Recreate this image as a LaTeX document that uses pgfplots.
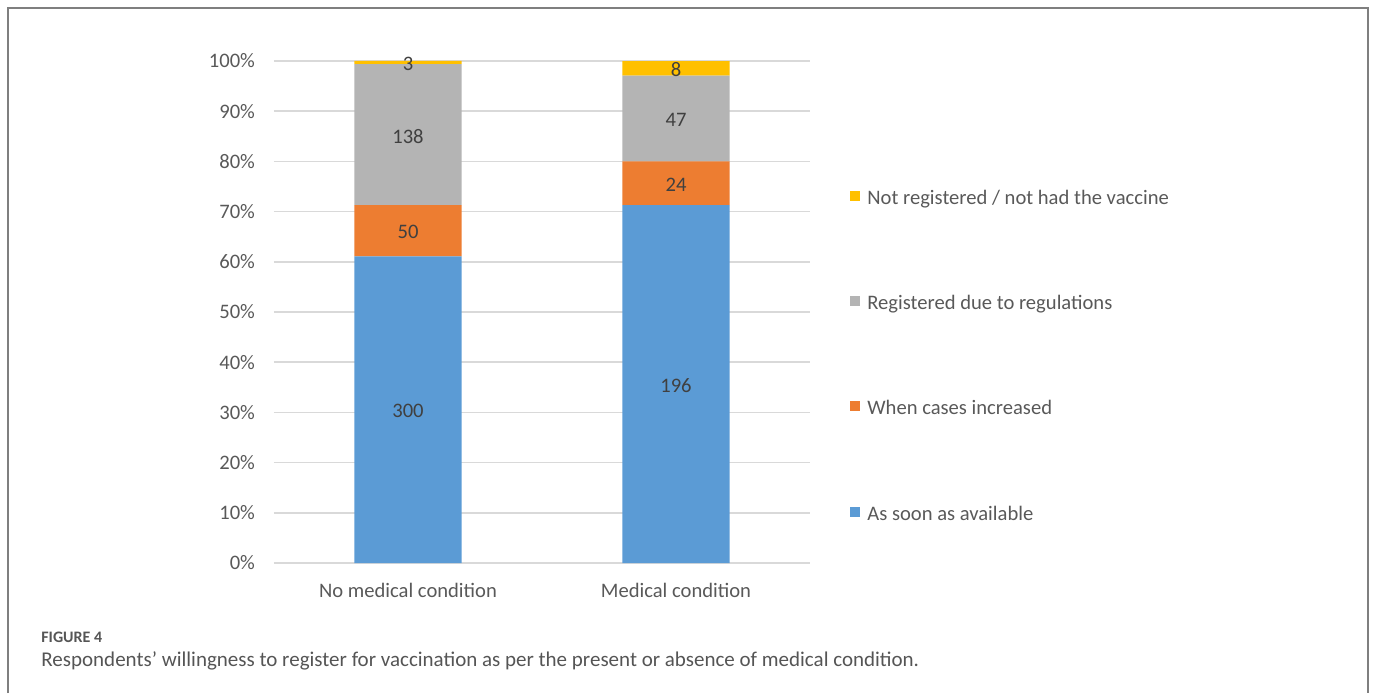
\documentclass[border=0pt]{standalone}
\usepackage{fontspec}
\setmainfont{Carlito}
\usepackage{pgfplots}
\usepackage{pgfplotstable}
\pgfplotsset{compat=1.18}
\definecolor{cBlue}{HTML}{5B9BD5}
\definecolor{cOrange}{HTML}{ED7D31}
\definecolor{cGray}{HTML}{B4B4B4}
\definecolor{cYellow}{HTML}{FFC000}
\definecolor{txt}{HTML}{595959}
\definecolor{lbl}{HTML}{404040}
\definecolor{gridc}{HTML}{D9D9D9}
\definecolor{framec}{HTML}{7F7F7F}
\definecolor{capc}{HTML}{555555}

% respondents per answer, and group totals
\pgfplotstableread{
x soon cases regs none tot
0 300 50 138 3 491
1 196 24 47 8 275
}\vaccine

\begin{document}
\begin{tikzpicture}
\useasboundingbox (0pt,0pt) rectangle (686.5pt,346.5pt);
\draw[framec, line width=1pt] (4pt,0pt) -- (4pt,342.5pt) -- (684pt,342.5pt) -- (684pt,0pt);
\begin{axis}[
  at={(137pt,65pt)}, anchor=south west,
  scale only axis, width=268pt, height=251pt,
  clip=false,
  ybar stacked, bar width=0.4,
  xmin=-0.5, xmax=1.5, ymin=0, ymax=100,
  xtick={0,1}, xticklabels={No medical condition, Medical condition},
  ytick={0,10,...,100},
  yticklabel={\pgfmathprintnumber{\tick}\%},
  ymajorgrids, grid style={gridc, line width=0.75pt},
  axis line style={draw=none},
  major tick length=0pt,
  tick label style={font=\fontsize{10.3}{12}\selectfont, text=txt},
  /pgf/number format/assume math mode=true,
  yticklabel style={xshift=-6pt},
  xticklabel style={yshift=-6.5pt},
  nodes near coords,
  nodes near coords style={font=\fontsize{10.3}{12}\selectfont, text=lbl, anchor=center, yshift=-0.8pt},
  legend style={at={(1.0746,0.743)}, anchor=north west, draw=none, fill=none,
    inner sep=0pt, font=\fontsize{10.3}{12}\selectfont, text=txt,
    nodes={inner sep=0pt, text height=7pt, text depth=2pt},
    row sep=43.6pt,
    /tikz/every odd column/.append style={column sep=3.5pt}},
  legend cell align=left,
  reverse legend,
  legend image code/.code={\fill[#1] (0pt,-0.8pt) rectangle (5pt,4.2pt);},
]
\addplot[fill=cBlue, draw=none, point meta=\thisrow{soon}]
  table[x=x, y expr=\thisrow{soon}/\thisrow{tot}*100] {\vaccine};
\addplot[fill=cOrange, draw=none, point meta=\thisrow{cases}]
  table[x=x, y expr=\thisrow{cases}/\thisrow{tot}*100] {\vaccine};
\addplot[fill=cGray, draw=none, point meta=\thisrow{regs}]
  table[x=x, y expr=\thisrow{regs}/\thisrow{tot}*100] {\vaccine};
\addplot[fill=cYellow, draw=none, point meta=\thisrow{none}]
  table[x=x, y expr=\thisrow{none}/\thisrow{tot}*100] {\vaccine};
\legend{As soon as available, When cases increased, Registered due to regulations, Not registered / not had the vaccine}
\end{axis}
\node[anchor=base west, inner sep=0pt, text=capc, font=\fontsize{8}{9}\selectfont\bfseries] at (20.5pt,25.5pt) {FIGURE 4};
\node[anchor=base west, inner sep=0pt, text=capc, font=\fontsize{10.5}{12}\selectfont] at (20.5pt,13.5pt) {Respondents’ willingness to register for vaccination as per the present or absence of medical condition.};
\end{tikzpicture}
\end{document}
